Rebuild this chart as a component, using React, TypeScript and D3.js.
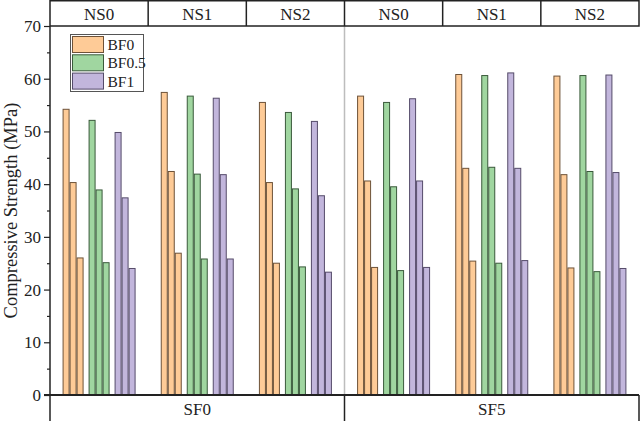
import React, { useRef, useEffect } from "react";
import { select, scaleBand, scaleLinear, axisLeft } from "d3";

const sfGroups = ["SF0", "SF5"];
const nsGroups = ["NS0", "NS1", "NS2"];
const bfSeries = ["BF0", "BF0.5", "BF1"];
const barsPerSeries = ["a", "b", "c"];

// values[sf][ns][bf] = three bars, tallest first
const sf0Values = [
  [[54.2, 40.3, 26.0], [52.1, 38.9, 25.1], [49.8, 37.4, 24.0]],
  [[57.4, 42.4, 26.9], [56.7, 41.9, 25.8], [56.3, 41.8, 25.8]],
  [[55.5, 40.3, 25.0], [53.6, 39.1, 24.3], [51.9, 37.8, 23.3]],
];
const sf5Values = [
  [[56.7, 40.6, 24.2], [55.5, 39.5, 23.6], [56.2, 40.6, 24.2]],
  [[60.8, 43.0, 25.4], [60.6, 43.2, 25.0], [61.1, 43.0, 25.5]],
  [[60.5, 41.8, 24.1], [60.6, 42.4, 23.4], [60.7, 42.2, 24.0]],
];
const allValues = [sf0Values, sf5Values];

const majorTicks = [0, 10, 20, 30, 40, 50, 60, 70];
const minorTicks = [5, 15, 25, 35, 45, 55, 65];

const fills = ["#FECB97", "#A0D6A0", "#C2B6DC"];
const strokes = ["#6e5238", "#3a5a3b", "#554b6a"];

const W = 640;
const H = 421;
const left = 50;
const right = 639;
const headerBottom = 26;
const axisY = 395;

const serif = "'Liberation Serif', 'Times New Roman', serif";

const App: React.FC = () => {
  const gy = useRef<SVGGElement>(null);
  const gyMinor = useRef<SVGGElement>(null);

  const cells = sfGroups.flatMap((sf) => nsGroups.map((ns) => `${sf}-${ns}`));

  const x = scaleBand().domain(cells).range([left, right]).padding(0);
  const cw = x.bandwidth();
  const xBf = scaleBand()
    .domain(bfSeries)
    .range([(cw - 73) / 2, (cw + 73) / 2])
    .paddingInner(5 / 26)
    .paddingOuter(0);
  const xBar = scaleBand().domain(barsPerSeries).range([0, xBf.bandwidth()]);

  const y = scaleLinear().domain([0, 70]).range([axisY, headerBottom]);

  useEffect(() => {
    if (gy.current) {
      const g = select(gy.current);
      g.call(axisLeft(y).tickValues(majorTicks).tickSize(6).tickPadding(3));
      g.select(".domain").remove();
      g.selectAll("line").attr("stroke", "#222").attr("stroke-width", 1.2);
      g.selectAll("text")
        .attr("font-family", serif)
        .attr("font-size", 17)
        .attr("fill", "#222");
    }
    if (gyMinor.current) {
      const g = select(gyMinor.current);
      g.call(axisLeft(y).tickValues(minorTicks).tickSize(3).tickFormat(() => ""));
      g.select(".domain").remove();
      g.selectAll("line").attr("stroke", "#222").attr("stroke-width", 1.2);
    }
  }, []);

  return (
    <svg
      width={W}
      height={H}
      style={{ position: "absolute", left: 0, top: 0, background: "#fff" }}
    >
      <rect x={0} y={0} width={W} height={H} fill="#fff" />

      {/* SF divider */}
      <line
        x1={x("SF5-NS0")}
        x2={x("SF5-NS0")}
        y1={headerBottom}
        y2={axisY}
        stroke="#bdbdbd"
        strokeWidth={1.5}
      />

      {/* bars */}
      {allValues.map((sfVals, si) =>
        sfVals.map((nsVals, ni) => {
          const cell = `${sfGroups[si]}-${nsGroups[ni]}`;
          return (
            <g key={cell} transform={`translate(${x(cell)},0)`}>
              {nsVals.map((bars, bi) => (
                <g key={bi} transform={`translate(${xBf(bfSeries[bi])},0)`}>
                  {bars.map((v, k) => (
                    <rect
                      key={k}
                      x={(xBar(barsPerSeries[k]) as number) + 0.5}
                      y={y(v)}
                      width={xBar.bandwidth() - 1}
                      height={axisY - y(v)}
                      fill={fills[bi]}
                      stroke={strokes[bi]}
                      strokeWidth={1}
                    />
                  ))}
                </g>
              ))}
            </g>
          );
        })
      )}

      {/* header row */}
      <rect
        x={left}
        y={0.75}
        width={right - left}
        height={headerBottom - 0.75}
        fill="#fff"
        stroke="#222"
        strokeWidth={1.5}
      />
      {cells.map((c, i) => (
        <g key={c}>
          {i > 0 && (
            <line
              x1={x(c)}
              x2={x(c)}
              y1={0}
              y2={headerBottom}
              stroke="#222"
              strokeWidth={1.5}
            />
          )}
          <text
            x={(x(c) as number) + cw / 2}
            y={19.5}
            textAnchor="middle"
            fontFamily={serif}
            fontSize={17}
            fill="#222"
          >
            {nsGroups[i % 3]}
          </text>
        </g>
      ))}

      {/* bottom row */}
      {sfGroups.map((sf, si) => {
        const x0 = x(`${sf}-NS0`) as number;
        const x1 = (x(`${sf}-NS2`) as number) + cw;
        return (
          <g key={sf}>
            <line x1={x0} x2={x0} y1={axisY} y2={H} stroke="#222" strokeWidth={1.5} />
            {si === sfGroups.length - 1 && (
              <line x1={x1} x2={x1} y1={axisY} y2={H} stroke="#222" strokeWidth={1.5} />
            )}
            <text
              x={(x0 + x1) / 2}
              y={414.5}
              textAnchor="middle"
              fontFamily={serif}
              fontSize={17}
              fill="#222"
            >
              {sf}
            </text>
          </g>
        );
      })}

      {/* axes lines */}
      <line x1={left} x2={left} y1={headerBottom} y2={axisY} stroke="#222" strokeWidth={1.5} />
      <line x1={left - 6} x2={right} y1={axisY} y2={axisY} stroke="#222" strokeWidth={1.8} />

      <g ref={gy} transform={`translate(${left},0)`} />
      <g ref={gyMinor} transform={`translate(${left},0)`} />

      <text
        transform={`translate(13,${(headerBottom + axisY) / 2}) rotate(-90)`}
        textAnchor="middle"
        dominantBaseline="middle"
        fontFamily={serif}
        fontSize={18.5}
        fill="#222"
      >
        Compressive Strength (MPa)
      </text>

      {/* legend */}
      <g transform="translate(70,34)">
        <rect x={0.5} y={0.5} width={73} height={57} fill="#fff" stroke="#555" strokeWidth={1} />
        {bfSeries.map((s, i) => (
          <g key={s} transform={`translate(2.5,${2.5 + i * 18.3})`}>
            <rect width={31} height={16} fill={fills[i]} stroke={strokes[i]} strokeWidth={1} />
            <text x={35} y={13.5} fontFamily={serif} fontSize={15.5} fill="#222">
              {s}
            </text>
          </g>
        ))}
      </g>
    </svg>
  );
};

export default App;
